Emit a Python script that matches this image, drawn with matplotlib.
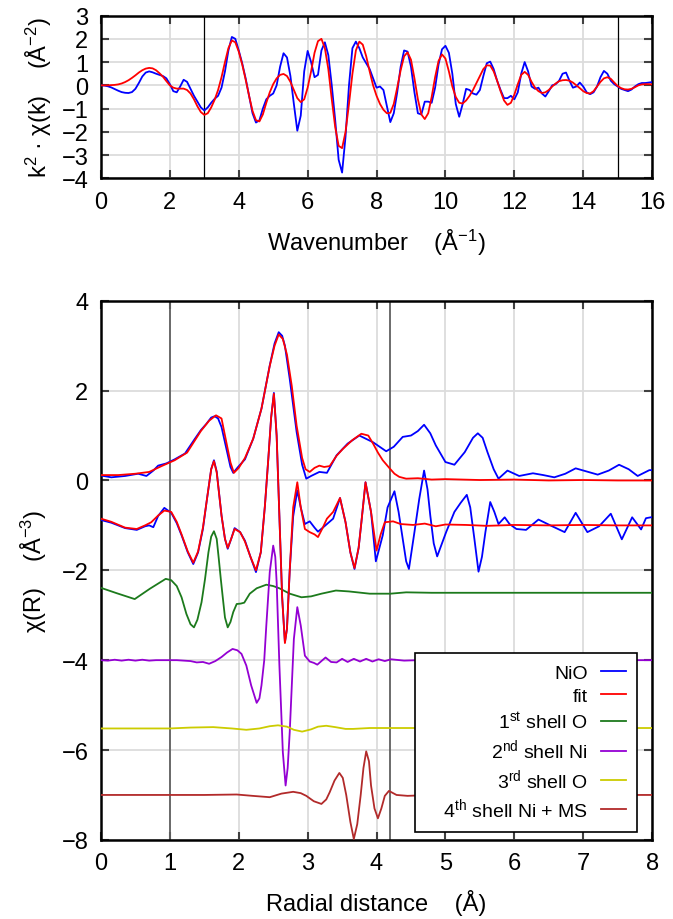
import numpy as np
import matplotlib
matplotlib.use("Agg")
import matplotlib.pyplot as plt

###############################################################################
""" Datos """
###############################################################################
# k^2 chi(k), paso 0.1 en k (0 .. 16)
k = np.round(np.arange(0, 16.01, 0.1), 2)
chik_nio = [0.00, -0.01, -0.04, -0.09, -0.16, -0.23, -0.29, -0.32, -0.33, -0.29,
            -0.15, 0.10, 0.38, 0.55, 0.60, 0.56, 0.50, 0.45, 0.40, 0.30,
            0.05, -0.25, -0.30, -0.05, 0.24, 0.15, -0.15, -0.45, -0.70, -0.95,
            -1.08, -0.95, -0.75, -0.58, -0.45, -0.10, 0.60, 1.50, 2.08, 2.00,
            1.50, 0.95, 0.30, -0.45, -1.20, -1.60, -1.50, -1.00, -0.60, -0.45,
            -0.35, 0.00, 0.80, 1.38, 1.20, 0.40, -0.80, -1.95, -1.30, 0.60,
            1.48, 1.00, 0.35, 0.45, 1.50, 1.85, 1.30, 0.00, -1.50, -3.20,
            -3.75, -2.20, 0.00, 1.60, 1.88, 1.60, 1.20, 0.95, 0.70, 0.30,
            -0.10, -0.05, -0.20, -0.90, -1.58, -1.20, -0.30, 0.80, 1.50, 1.45,
            0.80, -0.30, -1.20, -1.25, -0.70, -0.70, -0.75, -0.10, 0.90, 1.55,
            1.70, 1.40, 0.50, -0.80, -1.35, -0.80, -0.15, -0.20, -0.35, -0.40,
            -0.20, 0.40, 0.95, 1.02, 0.70, 0.20, -0.20, -0.55, -0.55, -0.45,
            -0.60, -0.30, 0.50, 1.00, 0.60, -0.05, -0.15, -0.10, -0.35, -0.48,
            -0.25, 0.00, 0.05, 0.20, 0.50, 0.55, 0.20, -0.10, -0.05, 0.12,
            -0.05, -0.30, -0.38, -0.30, -0.05, 0.35, 0.62, 0.50, 0.20, 0.05,
            -0.05, -0.15, -0.20, -0.25, -0.18, -0.05, 0.05, 0.10, 0.10, 0.12,
            0.14]
chik_fit = [0.00, 0.00, 0.00, 0.01, 0.02, 0.04, 0.08, 0.14, 0.22, 0.32,
            0.43, 0.55, 0.65, 0.72, 0.75, 0.73, 0.65, 0.52, 0.37, 0.18,
            0.00, -0.10, -0.14, -0.14, -0.14, -0.20, -0.35, -0.60, -0.90, -1.15,
            -1.27, -1.20, -0.95, -0.62, -0.20, 0.35, 1.00, 1.60, 1.93, 1.85,
            1.45, 0.90, 0.25, -0.45, -1.10, -1.50, -1.55, -1.25, -0.75, -0.30,
            0.05, 0.30, 0.45, 0.49, 0.40, 0.15, -0.20, -0.55, -0.72, -0.60,
            -0.10, 0.60, 1.40, 1.90, 2.00, 1.60, 0.70, -0.60, -1.80, -2.60,
            -2.70, -2.00, -0.80, 0.50, 1.50, 1.88, 1.75, 1.25, 0.60, 0.00,
            -0.45, -0.80, -1.05, -1.20, -1.18, -0.80, -0.10, 0.65, 1.25, 1.42,
            1.10, 0.30, -0.60, -1.25, -1.45, -1.20, -0.50, 0.35, 1.05, 1.33,
            1.15, 0.60, -0.05, -0.50, -0.75, -0.78, -0.65, -0.45, -0.20, 0.10,
            0.40, 0.70, 0.86, 0.85, 0.60, 0.20, -0.25, -0.65, -0.84, -0.75,
            -0.40, 0.05, 0.45, 0.58, 0.45, 0.15, -0.10, -0.25, -0.33, -0.30,
            -0.20, -0.05, 0.08, 0.18, 0.22, 0.23, 0.20, 0.12, 0.00, -0.12,
            -0.25, -0.33, -0.35, -0.25, -0.05, 0.15, 0.30, 0.35, 0.28, 0.12,
            -0.03, -0.12, -0.17, -0.18, -0.15, -0.08, 0.00, 0.04, 0.05, 0.05,
            0.04]
k_window = [3.0, 15.0]

# chi(R): pares (R, valor)
mag_nio = [(0.00, 0.11), (0.15, 0.07), (0.35, 0.10), (0.54, 0.15), (0.66, 0.10),
           (0.76, 0.22), (0.83, 0.33), (0.95, 0.38), (1.07, 0.47), (1.22, 0.60),
           (1.36, 0.92), (1.45, 1.12), (1.53, 1.26), (1.60, 1.40), (1.65, 1.43),
           (1.70, 1.38), (1.75, 1.19), (1.82, 0.71), (1.88, 0.30), (1.92, 0.17),
           (1.99, 0.30), (2.09, 0.47), (2.21, 0.93), (2.33, 1.60), (2.45, 2.56),
           (2.52, 3.05), (2.58, 3.30), (2.63, 3.22), (2.67, 3.00), (2.74, 2.26),
           (2.84, 1.08), (2.92, 0.35), (2.98, 0.04), (3.05, 0.10), (3.17, 0.19),
           (3.28, 0.17), (3.42, 0.56), (3.58, 0.82), (3.75, 1.00), (3.95, 0.85),
           (4.14, 0.65), (4.25, 0.75), (4.38, 0.97), (4.50, 1.00), (4.60, 1.10),
           (4.69, 1.24), (4.78, 1.05), (4.86, 0.78), (5.00, 0.41), (5.13, 0.35),
           (5.28, 0.63), (5.40, 0.95), (5.47, 1.05), (5.54, 0.95), (5.61, 0.63),
           (5.70, 0.25), (5.77, 0.04), (5.90, 0.22), (6.07, 0.10), (6.27, 0.16),
           (6.42, 0.12), (6.58, 0.07), (6.74, 0.15), (6.89, 0.27), (7.05, 0.20),
           (7.21, 0.13), (7.37, 0.22), (7.52, 0.35), (7.66, 0.25), (7.79, 0.10),
           (7.96, 0.23), (8.00, 0.23)]
mag_fit = [(0.00, 0.12), (0.25, 0.12), (0.50, 0.15), (0.70, 0.19), (0.88, 0.32),
           (1.07, 0.45), (1.25, 0.62), (1.45, 1.10), (1.57, 1.33), (1.67, 1.45),
           (1.75, 1.38), (1.82, 0.85), (1.88, 0.40), (1.93, 0.17), (2.00, 0.28),
           (2.09, 0.50), (2.21, 0.93), (2.33, 1.60), (2.45, 2.55), (2.52, 3.00),
           (2.58, 3.25), (2.64, 3.15), (2.70, 2.80), (2.77, 2.10), (2.84, 1.22),
           (2.92, 0.50), (2.97, 0.25), (3.03, 0.19), (3.10, 0.28), (3.17, 0.33),
           (3.24, 0.30), (3.32, 0.32), (3.42, 0.55), (3.51, 0.70), (3.65, 0.90),
           (3.78, 1.04), (3.88, 1.00), (3.95, 0.82), (4.02, 0.62), (4.09, 0.45),
           (4.19, 0.27), (4.26, 0.15), (4.33, 0.08), (4.43, 0.04), (4.60, 0.05),
           (4.80, 0.02), (5.00, 0.03), (5.50, 0.01), (6.00, 0.02), (6.50, 0.00),
           (7.00, 0.01), (7.50, 0.00), (8.00, 0.00)]
im_nio = [(0.00, -0.88), (0.15, -0.94), (0.35, -1.06), (0.52, -1.10), (0.64, -1.02),
          (0.70, -1.00), (0.76, -1.04), (0.83, -0.79), (0.92, -0.61), (1.02, -0.72),
          (1.10, -0.95), (1.17, -1.22), (1.26, -1.60), (1.34, -1.86), (1.41, -1.60),
          (1.48, -1.08), (1.54, -0.40), (1.60, 0.25), (1.64, 0.45), (1.68, 0.20),
          (1.75, -0.78), (1.80, -1.30), (1.84, -1.52), (1.89, -1.30), (1.94, -1.06),
          (2.02, -1.15), (2.09, -1.34), (2.17, -1.70), (2.25, -2.04), (2.32, -1.60),
          (2.38, -0.56), (2.43, 0.50), (2.47, 1.40), (2.51, 1.95), (2.55, 1.00),
          (2.59, -0.80), (2.63, -2.60), (2.67, -3.60), (2.70, -3.30), (2.74, -2.00),
          (2.79, -0.80), (2.85, -0.22), (2.90, -0.60), (2.96, -0.97), (3.03, -0.91),
          (3.10, -1.05), (3.15, -1.14), (3.22, -1.05), (3.28, -0.97), (3.37, -0.85),
          (3.47, -0.39), (3.55, -0.93), (3.62, -1.60), (3.68, -1.97), (3.74, -1.50),
          (3.78, -0.93), (3.84, -0.04), (3.92, -0.70), (3.99, -1.80), (4.09, -1.22),
          (4.16, -0.60), (4.26, -0.24), (4.32, -0.70), (4.38, -1.30), (4.43, -1.80),
          (4.47, -1.97), (4.55, -1.15), (4.62, -0.41), (4.69, 0.22), (4.74, -0.20),
          (4.78, -0.78), (4.83, -1.40), (4.88, -1.69), (5.01, -1.15), (5.13, -0.70),
          (5.22, -0.50), (5.31, -0.32), (5.36, -0.60), (5.42, -1.30), (5.48, -2.03),
          (5.53, -1.70), (5.58, -1.15), (5.65, -0.48), (5.71, -0.70), (5.77, -0.97),
          (5.86, -0.82), (5.93, -0.97), (6.03, -1.08), (6.17, -1.10), (6.35, -0.87),
          (6.55, -1.02), (6.73, -1.15), (6.89, -0.72), (7.06, -1.15), (7.23, -1.02),
          (7.40, -0.74), (7.56, -1.31), (7.71, -0.82), (7.84, -1.09), (7.91, -0.84),
          (7.98, -0.82), (8.00, -0.82)]
im_fit = [(0.00, -0.85), (0.15, -0.92), (0.35, -1.05), (0.52, -1.08), (0.64, -1.00),
          (0.73, -0.93), (0.83, -0.78), (0.92, -0.67), (1.02, -0.70), (1.10, -0.92),
          (1.17, -1.20), (1.26, -1.58), (1.34, -1.83), (1.41, -1.58), (1.48, -1.05),
          (1.54, -0.40), (1.60, 0.25), (1.64, 0.43), (1.68, 0.18), (1.75, -0.78),
          (1.80, -1.30), (1.84, -1.50), (1.89, -1.30), (1.94, -1.08), (2.02, -1.15),
          (2.09, -1.36), (2.17, -1.70), (2.25, -2.00), (2.32, -1.60), (2.38, -0.56),
          (2.43, 0.50), (2.47, 1.40), (2.51, 1.93), (2.55, 1.00), (2.59, -0.80),
          (2.63, -2.60), (2.67, -3.62), (2.70, -3.30), (2.74, -2.00), (2.79, -0.60),
          (2.85, -0.04), (2.90, -0.60), (2.96, -1.08), (3.03, -1.15), (3.10, -1.20),
          (3.15, -1.26), (3.22, -1.05), (3.28, -0.85), (3.37, -0.70), (3.47, -0.39),
          (3.55, -0.93), (3.62, -1.60), (3.68, -1.95), (3.74, -1.50), (3.78, -0.93),
          (3.84, -0.04), (3.92, -0.70), (4.00, -1.56), (4.06, -1.20), (4.12, -0.93),
          (4.24, -0.91), (4.35, -0.97), (4.53, -0.99), (4.70, -0.96), (4.86, -1.02),
          (5.00, -0.98), (5.30, -0.99), (5.60, -1.01), (6.00, -0.99), (6.50, -1.00),
          (7.00, -0.99), (7.50, -1.00), (8.00, -1.00)]
shell1_O = [(0.00, -2.39), (0.23, -2.51), (0.49, -2.64), (0.71, -2.41), (0.94, -2.19),
            (1.02, -2.22), (1.10, -2.35), (1.17, -2.60), (1.24, -2.97), (1.30, -3.20),
            (1.35, -3.27), (1.40, -3.10), (1.46, -2.71), (1.51, -2.20), (1.56, -1.60),
            (1.60, -1.25), (1.64, -1.13), (1.68, -1.30), (1.71, -1.74), (1.74, -2.20),
            (1.77, -2.63), (1.80, -3.05), (1.84, -3.27), (1.88, -3.15), (1.92, -2.93),
            (1.97, -2.75), (2.03, -2.74), (2.08, -2.72), (2.16, -2.52), (2.26, -2.40),
            (2.40, -2.32), (2.50, -2.35), (2.59, -2.40), (2.74, -2.52), (2.91, -2.60),
            (3.05, -2.58), (3.20, -2.52), (3.41, -2.45), (3.60, -2.47), (3.90, -2.52),
            (4.20, -2.52), (4.43, -2.49), (4.80, -2.50), (5.50, -2.50), (6.50, -2.50),
            (7.20, -2.50), (8.00, -2.50)]
shell2_Ni = [(0.00, -4.00), (0.10, -4.01), (0.20, -3.99), (0.30, -4.01), (0.40, -3.99),
             (0.50, -4.01), (0.60, -3.99), (0.70, -4.01), (0.80, -4.00), (0.90, -4.00),
             (1.00, -4.00), (1.10, -4.00), (1.20, -4.01), (1.30, -4.02), (1.39, -4.05),
             (1.48, -4.04), (1.57, -4.08), (1.66, -4.02), (1.75, -3.93), (1.83, -3.83),
             (1.91, -3.75), (1.98, -3.78), (2.04, -3.86), (2.11, -4.12), (2.18, -4.56),
             (2.26, -4.95), (2.30, -4.85), (2.33, -4.56), (2.37, -4.00), (2.40, -3.23),
             (2.45, -2.04), (2.50, -1.45), (2.53, -1.70), (2.55, -2.26), (2.59, -4.12),
             (2.64, -6.05), (2.68, -6.79), (2.71, -6.40), (2.74, -5.60), (2.80, -3.53),
             (2.85, -2.82), (2.90, -3.23), (2.96, -3.90), (3.03, -4.03), (3.09, -4.06),
             (3.14, -4.10), (3.20, -4.02), (3.26, -3.94), (3.34, -4.04), (3.42, -4.05),
             (3.50, -3.97), (3.58, -4.04), (3.67, -3.97), (3.76, -4.03), (3.85, -3.97),
             (3.94, -4.03), (4.03, -3.98), (4.12, -4.02), (4.21, -3.98), (4.40, -4.01),
             (4.60, -4.00), (5.00, -4.00), (6.00, -4.00), (7.00, -4.00), (8.00, -4.00)]
shell3_O = [(0.00, -5.52), (0.50, -5.52), (1.00, -5.52), (1.30, -5.50), (1.63, -5.49),
            (1.90, -5.52), (2.11, -5.55), (2.30, -5.52), (2.45, -5.47), (2.57, -5.45),
            (2.70, -5.48), (2.80, -5.55), (2.92, -5.59), (3.05, -5.54), (3.15, -5.48),
            (3.27, -5.46), (3.40, -5.49), (3.55, -5.53), (3.66, -5.53), (3.90, -5.51),
            (4.20, -5.51), (5.00, -5.51), (6.00, -5.50), (7.00, -5.51), (8.00, -5.51)]
shell4_NiMS = [(0.00, -7.00), (1.00, -7.00), (1.50, -7.00), (1.97, -6.99), (2.20, -7.02),
               (2.45, -7.05), (2.62, -6.97), (2.79, -6.93), (2.90, -6.96), (2.98, -7.02),
               (3.09, -7.14), (3.20, -7.20), (3.27, -7.10), (3.32, -6.94), (3.39, -6.68),
               (3.46, -6.51), (3.51, -6.62), (3.56, -7.00), (3.62, -7.60), (3.67, -7.98),
               (3.72, -7.65), (3.77, -7.00), (3.81, -6.40), (3.85, -6.03), (3.89, -6.25),
               (3.92, -6.79), (3.97, -7.30), (4.02, -7.52), (4.07, -7.30), (4.12, -7.02),
               (4.18, -6.91), (4.29, -7.00), (4.45, -7.02), (4.80, -7.00), (5.50, -7.00),
               (6.50, -7.00), (8.00, -7.00)]
r_window = [1.0, 4.2]

labels = ['NiO', 'fit', '1$^{st}$ shell O', '2$^{nd}$ shell Ni',
          '3$^{rd}$ shell O', '   4$^{th}$ shell Ni + MS']
colores = ['#0000ff', '#ff0000', '#1c7a1c', '#9400d3', '#cccc00', '#b22a2a']

###############################################################################
""" Estilo """
###############################################################################
plt.rcParams['font.family'] = ['Liberation Sans', 'DejaVu Sans']
plt.rcParams['mathtext.fontset'] = 'custom'
plt.rcParams['mathtext.rm'] = 'Liberation Sans'
plt.rcParams['mathtext.it'] = 'Liberation Sans:italic'
plt.rcParams['mathtext.default'] = 'regular'

FS = 17


def estilo(ax):
    ax.grid(True, color='#dcdcdc', lw=1.3)
    ax.set_axisbelow(True)
    ax.tick_params(direction='in', length=6, width=1.5, color='#404040',
                   top=True, right=True, labelsize=FS, pad=9)
    for s in ax.spines.values():
        s.set_linewidth(1.8)
        s.set_color('black')


fig = plt.figure(figsize=(6.73, 9.2), dpi=100)

###############################################################################
""" k-space """
###############################################################################
ax1 = fig.add_axes([0.150, 0.805, 0.819, 0.177])
estilo(ax1)
for kw in k_window:
    ax1.axvline(kw, color='black', lw=0.9, zorder=2)
ax1.plot(k, chik_nio, color=colores[0], lw=1.3, zorder=3)
ax1.plot(k, chik_fit, color=colores[1], lw=1.3, zorder=4)
ax1.set_xlim(0, 16)
ax1.set_ylim(-4, 3)
ax1.set_xticks(np.arange(0, 17, 2))
ax1.set_yticks(np.arange(-4, 4, 1))
ax1.set_xlabel('Wavenumber    (Å$^{-1}$)', fontsize=FS)
ax1.set_ylabel('k$^2$ · χ(k)    (Å$^{-2}$)', fontsize=FS)
ax1.yaxis.set_label_coords(-0.085, 0.5)
ax1.xaxis.set_label_coords(0.5, -0.30)

###############################################################################
""" R-space """
###############################################################################
ax2 = fig.add_axes([0.150, 0.086, 0.819, 0.586])
estilo(ax2)
for rw in r_window:
    ax2.axvline(rw, color='#606060', lw=1.3, zorder=2)
series = [mag_nio, mag_fit, shell1_O, shell2_Ni, shell3_O, shell4_NiMS]
for i, s in enumerate(series):
    x, y = np.array(s).T
    ax2.plot(x, y, color=colores[i], lw=1.3, label=labels[i], zorder=3 + (i == 1))
for s, c in [(im_nio, colores[0]), (im_fit, colores[1])]:
    x, y = np.array(s).T
    ax2.plot(x, y, color=c, lw=1.3, zorder=4 if c == colores[1] else 3)
ax2.set_xlim(0, 8)
ax2.set_ylim(-8, 4)
ax2.set_xticks(np.arange(0, 9, 1))
ax2.set_yticks(np.arange(-8, 5, 2))
ax2.set_xlabel('Radial distance    (Å)', fontsize=FS)
ax2.set_ylabel('χ(R)    (Å$^{-3}$)', fontsize=FS)
ax2.yaxis.set_label_coords(-0.095, 0.5)
ax2.xaxis.set_label_coords(0.5, -0.092)

leg = ax2.legend(loc='lower right', bbox_to_anchor=(0.973, 0.015), borderaxespad=0,
                 fontsize=14, markerfirst=False, handlelength=1.25, labelspacing=0.28,
                 frameon=True, fancybox=False, edgecolor='black', framealpha=1,
                 borderpad=0.6, handletextpad=0.7)
leg.get_frame().set_linewidth(1.2)
leg.set_zorder(10)
for t in leg.get_texts():
    t.set_ha('right')
leg._legend_box.align = 'right'

fig.savefig('out.png', dpi=100)
